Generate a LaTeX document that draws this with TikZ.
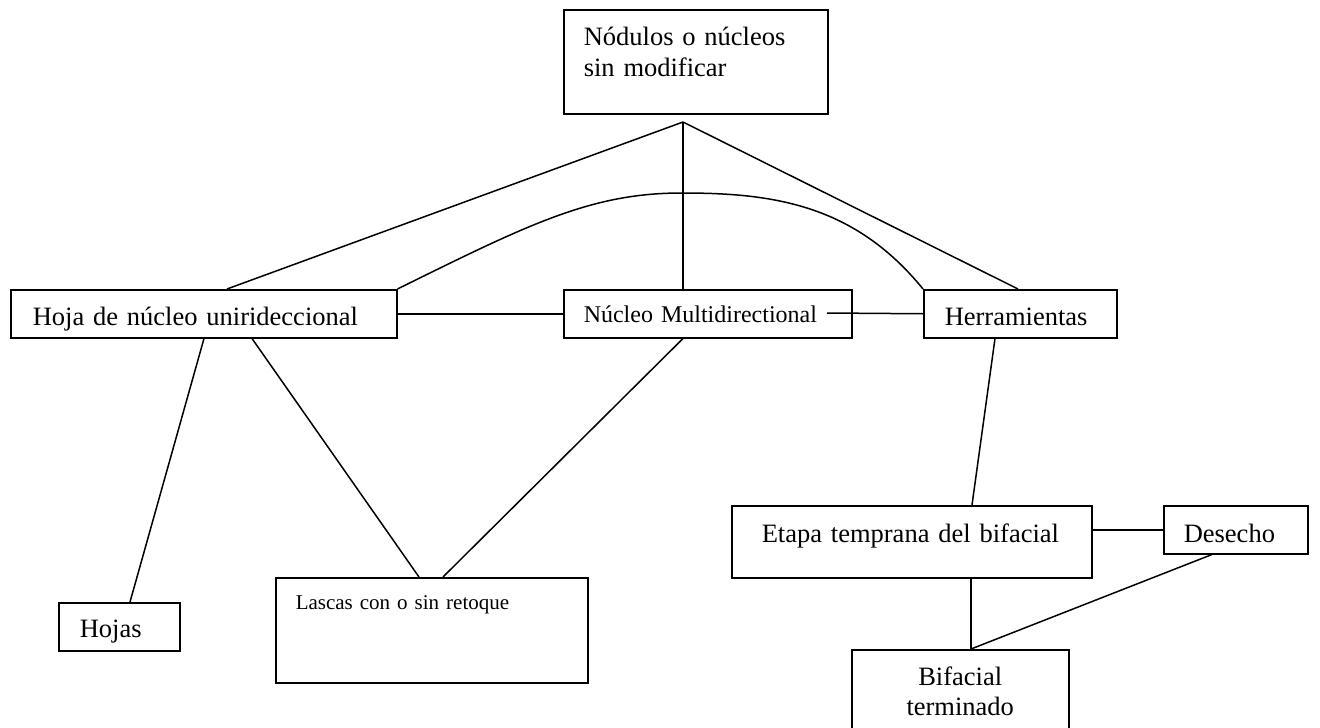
\documentclass[tikz,border=0pt]{standalone}
\usepackage{fontspec}
\setmainfont{Liberation Serif}
\begin{document}
\begin{tikzpicture}[x=1pt,y=-1pt,line width=1.5pt,
  caja/.style={draw,anchor=north west,inner ysep=0pt,align=left,
    font=\fontsize{26.5}{31}\selectfont}]

% Marco de la figura
\clip (0,0) rectangle (1320,728);

% Cajas
\node[caja,inner xsep=20pt,text width=224pt,text height=36pt,text depth=68pt] (nodulos) at (563,9) {Nódulos o núcleos\\sin modificar};
\node[caja,inner xsep=22pt,text width=342pt,text height=36pt,text depth=12pt] (hoja) at (10,289) {Hoja de núcleo unirideccional};
\node[caja,inner xsep=20pt,text width=248pt,text height=33pt,text depth=15pt,font=\fontsize{24}{28}\selectfont] (nucleo) at (563,289) {Núcleo Multidirectional};
\node[caja,inner xsep=21pt,text width=151pt,text height=36pt,text depth=12pt] (herr) at (923,289) {Herramientas};
\node[caja,inner xsep=30pt,text width=300pt,text height=37pt,text depth=35pt] (etapa) at (731,505) {Etapa temprana del bifacial};
\node[caja,inner xsep=20pt,text width=104pt,text height=37pt,text depth=11pt] (desecho) at (1163,505) {Desecho};
\node[caja,inner xsep=0pt,text width=217pt,text height=36pt,text depth=64pt,align=center,font=\fontsize{26.5}{30}\selectfont] (bifacial) at (851,649) {Bifacial\\terminado};
\node[caja,inner xsep=21pt,text width=79pt,text height=35pt,text depth=13pt] (hojas) at (58,602) {Hojas};
\node[caja,inner xsep=20pt,text width=272pt,text height=32pt,text depth=73pt,font=\fontsize{21}{25}\selectfont] (lascas) at (275,577) {Lascas con o sin retoque};

% Puntos de union
\coordinate (vertice) at (683,122);
\coordinate (cima) at (682,193);
\coordinate (nmfin) at (827,313);

% Conexiones
\draw (vertice) -- ([xshift=217pt]hoja.north west);
\draw (vertice) -- ([xshift=120pt]nucleo.north west);
\draw (vertice) -- ([xshift=95pt]herr.north west);
\draw (hoja.north east) .. controls (531,223) and (592,193) .. (cima)
  .. controls (772,193) and (854,204) .. (herr.north west);
\draw (hoja.east) -- (nucleo.west);
\draw (nmfin) -- (herr.west);
\draw ([xshift=194pt]hoja.south west) -- ([xshift=72pt]hojas.north west);
\draw ([xshift=242pt]hoja.south west) -- ([xshift=144pt]lascas.north west);
\draw ([xshift=120pt]nucleo.south west) -- ([xshift=168pt]lascas.north west);
\draw ([xshift=72pt]herr.south west) -- ([xshift=241pt]etapa.north west);
\draw (etapa.east |- desecho.west) -- (desecho.west);
\draw ([xshift=240pt]etapa.south west) -- ([xshift=120pt]bifacial.north west);
\draw ([xshift=49pt]desecho.south west) -- ([xshift=120pt]bifacial.north west);

\end{tikzpicture}
\end{document}
